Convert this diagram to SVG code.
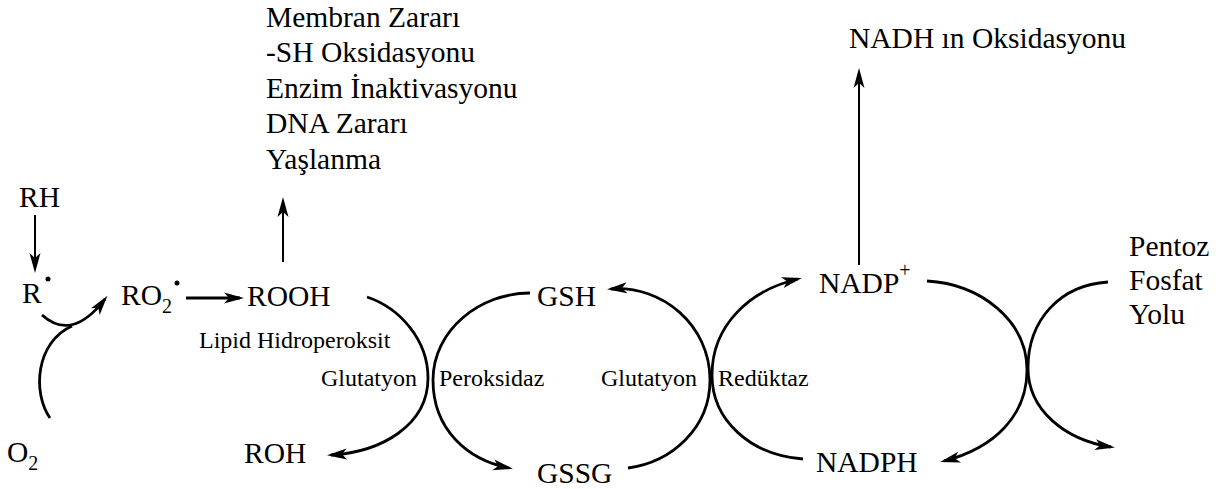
<svg xmlns="http://www.w3.org/2000/svg" width="1230" height="489" viewBox="0 0 1230 489" font-family="'Liberation Serif', 'DejaVu Serif', serif">
<defs>
<style>
text{font-size:29.5px;fill:#000}
.s{font-size:24px}
.sub{font-size:20px}
.c{fill:none;stroke:#000;stroke-width:2.8}
.v{fill:none;stroke:#000;stroke-width:2}
</style>
<marker id="ah" markerUnits="userSpaceOnUse" markerWidth="20" markerHeight="12" refX="16" refY="6" orient="auto" viewBox="0 0 20 12">
<path d="M0,0.5 L20,6 L0,11.5 L5,6 Z" fill="#000"/>
</marker>
</defs>
<rect width="1230" height="489" fill="#fff"/>

<g id="effects" font-family="Liberation Serif">
<text x="266" y="27">Membran Zararı</text>
<text x="266" y="62">-SH Oksidasyonu</text>
<text x="266" y="98">Enzim İnaktivasyonu</text>
<text x="266" y="133">DNA Zararı</text>
<text x="266" y="169">Yaşlanma</text>
</g>
<g id="nadh"><text x="849" y="48">NADH ın Oksidasyonu</text></g>
<g id="rh"><text x="19" y="207">RH</text></g>
<g id="r"><text x="22" y="303">R</text><circle cx="48" cy="279" r="2.5"/></g>
<g id="ro2"><text x="121" y="305">RO<tspan class="sub" dy="8">2</tspan></text><circle cx="177" cy="283" r="2.5"/></g>
<g id="rooh"><text x="247" y="306">ROOH</text></g>
<g id="lipid"><text class="s" x="199" y="348">Lipid Hidroperoksit</text></g>
<g id="enz1"><text class="s" x="321" y="386">Glutatyon</text><text class="s" x="439" y="386">Peroksidaz</text></g>
<g id="enz2"><text class="s" x="601" y="386">Glutatyon</text><text class="s" x="718" y="386">Redüktaz</text></g>
<g id="roh"><text x="244" y="463">ROH</text></g>
<g id="gsh"><text x="537" y="306">GSH</text></g>
<g id="gssg"><text x="537" y="483">GSSG</text></g>
<g id="nadp"><text x="819" y="293">NADP<tspan class="sub" dy="-16">+</tspan></text></g>
<g id="nadph"><text x="816" y="472">NADPH</text></g>
<g id="o2"><text x="7" y="462">O<tspan class="sub" dy="8">2</tspan></text></g>
<g id="pentoz">
<text x="1129" y="256">Pentoz</text>
<text x="1129" y="290">Fosfat</text>
<text x="1129" y="324">Yolu</text>
</g>

<g id="connectors">
<path class="v" d="M35,215 L35,269" marker-end="url(#ah)"/>
<path class="v" d="M283,262 L283,201" marker-end="url(#ah)"/>
<path class="v" d="M859,265 L859,72" marker-end="url(#ah)"/>
<path class="c" d="M186,298 L240,298" marker-end="url(#ah)"/>
<path class="c" d="M42,315 Q72,342 105,299" marker-end="url(#ah)"/>
<path class="c" d="M50,418 C32,392 36,342 72,326"/>
<path class="c" d="M367,297 C400,308 428,340 428,378 C428,425 382,452 331,455" marker-end="url(#ah)"/>
<path class="c" d="M530,293 C480,293 433,330 433,380 C433,430 468,460 509,468" marker-end="url(#ah)"/>
<path class="c" d="M628,468 C672,462 710,428 710,380 C710,325 662,285 611,289" marker-end="url(#ah)"/>
<path class="c" d="M803,459 C750,455 712,420 712,375 C712,325 750,290 798,279" marker-end="url(#ah)"/>
<path class="c" d="M927,281 C980,284 1027,320 1027,370 C1027,415 995,448 944,461" marker-end="url(#ah)"/>
<path class="c" d="M1108,282 C1060,285 1028,320 1028,368 C1028,410 1065,440 1111,447" marker-end="url(#ah)"/>
</g>
</svg>
